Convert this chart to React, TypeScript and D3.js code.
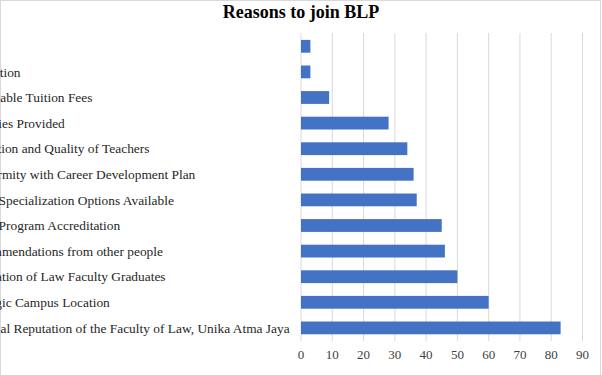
import React from "react";
import * as d3 from "d3";

const categories = [
  "Others",
  "Promotion",
  "Affordable Tuition Fees",
  "Facilities Provided",
  "Education and Quality of Teachers",
  "Conformity with Career Development Plan",
  "Many Specialization Options Available",
  "Study Program Accreditation",
  "Recommendations from other people",
  "Reputation of Law Faculty Graduates",
  "Strategic Campus Location",
  "National Reputation of the Faculty of Law, Unika Atma Jaya",
];
const values = [3, 3, 9, 28, 34, 36, 37, 45, 46, 50, 60, 83];
const ticks = [0, 10, 20, 30, 40, 50, 60, 70, 80, 90];
const title = "Reasons to join BLP";

const W = 602;
const H = 375;

export default function App() {
  const x = d3.scaleLinear().domain([0, 90]).range([301, 582.5]);
  const y = d3
    .scaleBand<string>()
    .domain(categories)
    .range([33.5, 340.7])
    .paddingInner(0.5)
    .paddingOuter(0.25);
  const labelX = -36;
  const font = "'Liberation Serif', 'Times New Roman', serif";
  return (
    <svg
      width={W}
      height={H}
      style={{ position: "absolute", left: 0, top: 0, background: "#fff" }}
      fontFamily={font}
    >
      <rect x={0.5} y={0.5} width={600} height={400} fill="#fff" stroke="#d9d9d9" />
      <text x={301} y={18} textAnchor="middle" fontSize={18} fontWeight="bold" fill="#000">
        {title}
      </text>
      {ticks.map((t) => (
        <line key={"g" + t} x1={x(t)} x2={x(t)} y1={33} y2={341} stroke="#d9d9d9" strokeWidth={1} />
      ))}
      {categories.map((c, i) => (
        <rect
          key={c}
          x={x(0)}
          y={y(c)!}
          width={x(values[i]) - x(0)}
          height={y.bandwidth()}
          fill="#4472c4"
        />
      ))}
      {categories.map((c) => (
        <text
          key={"l" + c}
          x={labelX}
          y={y(c)! + y.bandwidth() / 2}
          dy="0.35em"
          fontSize={13.4}
          fill="#262626"
        >
          {c}
        </text>
      ))}
      {ticks.map((t) => (
        <text key={"t" + t} x={x(t)} y={354} dy="0.35em" textAnchor="middle" fontSize={13} fill="#404040">
          {t}
        </text>
      ))}
    </svg>
  );
}
